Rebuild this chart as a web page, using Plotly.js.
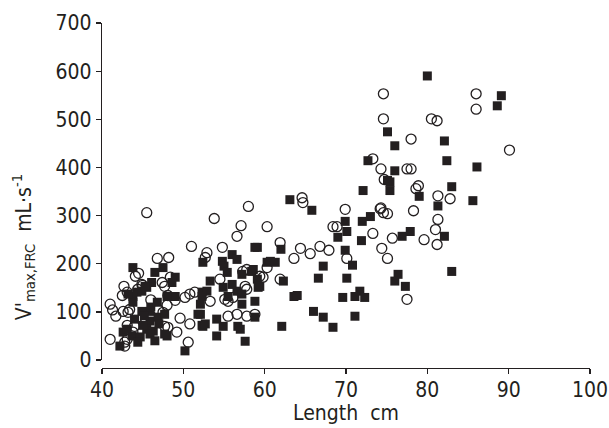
<!DOCTYPE html>
<html>
<head>
<meta charset="utf-8">
<script src="https://cdn.plot.ly/plotly-3.0.1.min.js"></script>
<style>html,body{margin:0;padding:0;background:#fff;}#chart{width:609px;height:428px;}</style>
</head>
<body>
<div id="chart"></div>
<script>
// Open circles group
const circleX = [41,41,41.3,41.7,42.6,43.2,42.7,42.5,42.8,43.1,42.8,44,45.3,48,49.6,49.2,50.8,50.6,50.2,50.8,51.4,48.1,49,47.4,47.7,48.4,44.9,44.4,47.7,48.1,51,45.5,43.4,46.8,48.2,44.1,44.5,45,43.1,46.9,47.5,43.1,43.8,46,
  52.9,52.7,54.8,56.6,54.5,53.3,55.1,55.5,56.1,57.8,57.6,57.3,57.8,59.4,59.8,55.5,56.6,57.8,58.8,
  58,53.8,57.1,60.3,61.9,64.4,63.6,64.6,64.7,61.9,60.3,
  69.9,74.2,74.6,75.1,68.4,68.9,73.3,75.7,65.6,66.8,67.9,70.1,74.4,75.1,77.5,
  74.6,86,86,74.6,80.5,81.2,78,90.1,73.3,74.3,77.5,78,74.7,78.9,78.6,81.3,82.8,74.3,78.3,81.3,81,79.6,81.2];
const circleY = [43,116,104,91,101,99,153,134,37,43,29,70,77,114,87,58,75,37,130,137,141,134,124,161,153,172,157,147,70,68,236,306,105,211,213,174,180,155,141,105,99,72,58,125,
  223,213,234,257,168,122,126,122,130,147,153,184,188,174,172,91,95,91,95,
  319,294,279,277,244,232,211,337,327,168,192,
  313,314,306,304,277,277,263,253,221,236,228,211,232,211,126,
  553,553,521,501,501,497,459,436,418,397,397,397,375,362,356,341,335,316,310,292,271,250,240];
// Filled squares group
const squareX = [43.8,47.5,46.5,49,48.6,46.1,45.5,44.9,44.3,43.8,49,48,43.8,45.9,45.9,46.9,47.7,44.9,45.5,46.3,42.6,43.7,44.7,45.9,48,42.2,50.2,44.4,47.7,45.3,43.2,46,45,44,47,46.5,43.1,45.2,46.8,
  52.3,52.1,52.1,52.3,59.1,56,56.6,52.4,54.8,55,60.3,60.7,55.4,57.2,58.4,59.1,53.3,52.9,52.3,54.9,56,56.6,55.5,57.2,59.2,58.8,51.8,54.1,54.9,54.1,52.4,56.7,57,58.8,57.6,63.1,58.8,62,61.3,58.6,59.4,62.3,63.6,57.2,62.1,52.7,
  72.1,75.4,75.4,65.8,69.9,72,73,70.1,69,71.9,76.9,69.9,70.8,67.2,66.6,70.1,64,69.6,71.7,71.1,72.3,66,67.2,68.4,71.1,76.4,76,77.3,
  80,89.1,88.6,75.1,76,82.1,72.7,76,82.4,86.1,75.1,83,79,81.3,85.6,77.9,82.1,83];
const squareY = [192,192,182,172,161,161,151,143,141,132,132,132,120,101,81,89,95,101,64,60,58,50,48,54,50,29,19,37,54,153,137,110,72,85,75,40,64,92,120,
  141,116,95,72,234,219,209,203,205,195,203,205,182,178,184,168,164,143,132,151,157,143,132,137,151,122,95,85,70,50,70,70,64,89,39,333,234,230,203,188,153,164,132,116,70,75,
  352,352,370,311,288,288,298,267,255,248,257,228,197,195,170,170,134,130,143,132,130,101,89,68,91,178,164,153,
  590,549,528,474,445,455,414,393,414,401,373,360,340,320,331,267,257,184];

const FONT = '"Liberation Sans Narrow", "DejaVu Sans Condensed", "Roboto Condensed", Arial, sans-serif';
const INK = '#231f20';

const traces = [
  {type:'scatter', mode:'markers', x:circleX, y:circleY, cliponaxis:false,
   marker:{symbol:'circle-open', size:10, color:INK, line:{width:1.3, color:INK}}},
  {type:'scatter', mode:'markers', x:squareX, y:squareY, cliponaxis:false,
   marker:{symbol:'square', size:9, color:INK, line:{width:0}}}
];

const layout = {
  width:609, height:428,
  margin:{l:102, r:19, t:23, b:60, pad:0},
  paper_bgcolor:'#fff', plot_bgcolor:'#fff',
  showlegend:false,
  font:{family:FONT, size:21, color:INK},
  xaxis:{
    range:[40,100], tickvals:[40,50,60,70,80,90,100], ticktext:['40','50','60','70','80','90','100'],
    showline:true, linecolor:INK, linewidth:1.3, ticks:'outside', ticklen:5, tickwidth:1.3, tickcolor:INK,
    showgrid:false, zeroline:false, anchor:'free', position:0,
    ticklabelstandoff:-3,
    tickfont:{family:FONT, size:21, color:INK},
    title:{text:'Length\u00a0\u00a0cm', font:{family:FONT, size:21, color:INK}, standoff:4}
  },
  yaxis:{
    range:[0,700], domain:[0.0231,1], tickvals:[0,100,200,300,400,500,600,700],
    ticktext:['0','100','200','300','400','500','600','700'],
    showline:true, linecolor:INK, linewidth:1.3, ticks:'outside', ticklen:5, tickwidth:1.3, tickcolor:INK,
    showgrid:false, zeroline:false,
    tickfont:{family:FONT, size:21, color:INK}
  },
  annotations:[{
    xref:'paper', yref:'paper', x:-0.162, y:0.35, xanchor:'center', yanchor:'middle',
    textangle:-90, showarrow:false,
    text:"V'<sub>max,FRC</sub>\u00a0\u00a0mL·s<sup>-1</sup>",
    font:{family:FONT, size:21, color:INK}
  }]
};

Plotly.newPlot('chart', traces, layout, {displayModeBar:false, staticPlot:true});
</script>
</body>
</html>
